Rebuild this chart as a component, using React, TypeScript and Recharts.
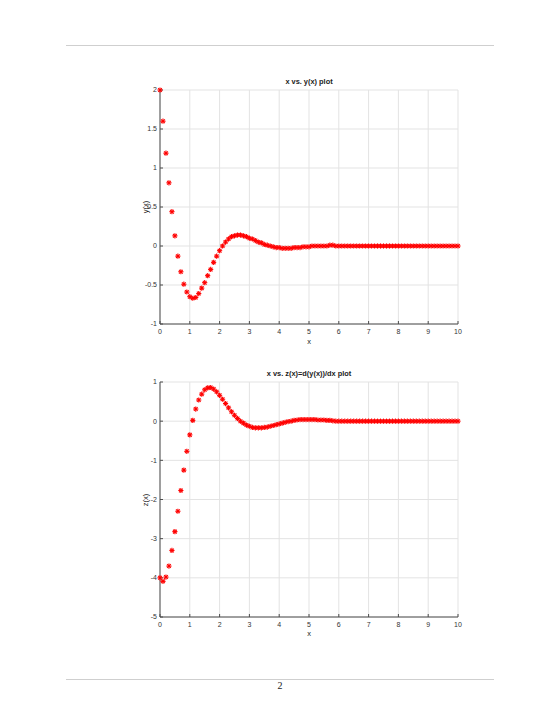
import { ScatterChart, Scatter, XAxis, YAxis, CartesianGrid } from "recharts";

// x grid (step 0.1)
const xValues = [
  0, 0.1, 0.2, 0.3, 0.4, 0.5, 0.6, 0.7, 0.8, 0.9,
  1, 1.1, 1.2, 1.3, 1.4, 1.5, 1.6, 1.7, 1.8, 1.9,
  2, 2.1, 2.2, 2.3, 2.4, 2.5, 2.6, 2.7, 2.8, 2.9,
  3, 3.1, 3.2, 3.3, 3.4, 3.5, 3.6, 3.7, 3.8, 3.9,
  4, 4.1, 4.2, 4.3, 4.4, 4.5, 4.6, 4.7, 4.8, 4.9,
  5, 5.1, 5.2, 5.3, 5.4, 5.5, 5.6, 5.7, 5.8, 5.9,
  6, 6.1, 6.2, 6.3, 6.4, 6.5, 6.6, 6.7, 6.8, 6.9,
  7, 7.1, 7.2, 7.3, 7.4, 7.5, 7.6, 7.7, 7.8, 7.9,
  8, 8.1, 8.2, 8.3, 8.4, 8.5, 8.6, 8.7, 8.8, 8.9,
  9, 9.1, 9.2, 9.3, 9.4, 9.5, 9.6, 9.7, 9.8, 9.9,
  10,
];

// y(x)
const yValues = [
  2.0, 1.6, 1.19, 0.81, 0.44, 0.13, -0.13, -0.33, -0.49, -0.59,
  -0.65, -0.67, -0.66, -0.61, -0.54, -0.47, -0.38, -0.3, -0.21, -0.13,
  -0.06, 0.0, 0.05, 0.09, 0.12, 0.13, 0.14, 0.14, 0.13, 0.12,
  0.1, 0.09, 0.07, 0.05, 0.04, 0.02, 0.01, 0.0, -0.01, -0.02,
  -0.02, -0.03, -0.03, -0.03, -0.03, -0.02, -0.02, -0.02, -0.01, -0.01,
  -0.01, 0.0, 0.0, 0.0, 0.0, 0.0, 0.0, 0.01, 0.01, 0.0,
  0, 0, 0, 0, 0, 0, 0, 0, 0, 0,
  0, 0, 0, 0, 0, 0, 0, 0, 0, 0,
  0, 0, 0, 0, 0, 0, 0, 0, 0, 0,
  0, 0, 0, 0, 0, 0, 0, 0, 0, 0,
  0,
];

// z(x) = d(y(x))/dx
const zValues = [
  -4.0, -4.09, -3.98, -3.7, -3.3, -2.82, -2.3, -1.77, -1.25, -0.77,
  -0.35, 0.02, 0.31, 0.54, 0.69, 0.8, 0.85, 0.86, 0.82, 0.75,
  0.66, 0.56, 0.45, 0.34, 0.24, 0.15, 0.07, 0.0, -0.05, -0.1,
  -0.13, -0.16, -0.17, -0.17, -0.17, -0.16, -0.15, -0.13, -0.11, -0.09,
  -0.07, -0.05, -0.03, -0.01, 0.0, 0.02, 0.03, 0.04, 0.04, 0.04,
  0.04, 0.04, 0.04, 0.03, 0.03, 0.03, 0.02, 0.02, 0.01, 0.0,
  0, 0, 0, 0, 0, 0, 0, 0, 0, 0,
  0, 0, 0, 0, 0, 0, 0, 0, 0, 0,
  0, 0, 0, 0, 0, 0, 0, 0, 0, 0,
  0, 0, 0, 0, 0, 0, 0, 0, 0, 0,
  0,
];

const xTicks = [0, 1, 2, 3, 4, 5, 6, 7, 8, 9, 10];
const yTicks = [-1, -0.5, 0, 0.5, 1, 1.5, 2];
const zTicks = [-5, -4, -3, -2, -1, 0, 1];

const yData = xValues.map((x, i) => ({ x, v: yValues[i] }));
const zData = xValues.map((x, i) => ({ x, v: zValues[i] }));

const FONT = "'Liberation Sans', Arial, Helvetica, sans-serif";
const AXIS = "#4d4d4d";
const tickStyle = { fill: "#333", fontSize: 7, fontFamily: FONT };

const Star = (props: any) => {
  const { cx, cy } = props;
  const r = 2.6;
  const d = r * 0.72;
  return (
    <g stroke="#ff0000" strokeWidth={1.1}>
      <line x1={cx - r} y1={cy} x2={cx + r} y2={cy} />
      <line x1={cx} y1={cy - r} x2={cx} y2={cy + r} />
      <line x1={cx - d} y1={cy - d} x2={cx + d} y2={cy + d} />
      <line x1={cx - d} y1={cy + d} x2={cx + d} y2={cy - d} />
    </g>
  );
};

const Plot = ({
  data,
  yDomain,
  yTickList,
  top,
  marginTop,
  marginBottom,
}: {
  data: { x: number; v: number }[];
  yDomain: [number, number];
  yTickList: number[];
  top: number;
  marginTop: number;
  marginBottom: number;
}) => (
  <div style={{ position: "absolute", left: 0, top }}>
    <ScatterChart
      width={560}
      height={360}
      margin={{ top: marginTop, right: 102, left: 140, bottom: marginBottom }}
    >
      <CartesianGrid stroke="#e3e3e3" strokeWidth={1} />
      <XAxis
        type="number"
        dataKey="x"
        domain={[0, 10]}
        ticks={xTicks}
        interval={0}
        height={20}
        stroke={AXIS}
        tickSize={-3}
        tickMargin={8}
        tick={tickStyle}
      />
      <XAxis
        xAxisId="top"
        orientation="top"
        type="number"
        dataKey="x"
        domain={[0, 10]}
        ticks={xTicks}
        interval={0}
        height={0}
        stroke={AXIS}
        tickSize={-3}
        tick={false}
      />
      <YAxis
        type="number"
        dataKey="v"
        domain={yDomain}
        ticks={yTickList}
        interval={0}
        width={20}
        stroke={AXIS}
        tickSize={-3}
        tickMargin={6}
        tick={tickStyle}
      />
      <YAxis
        yAxisId="right"
        orientation="right"
        type="number"
        dataKey="v"
        domain={yDomain}
        ticks={yTickList}
        interval={0}
        width={0}
        stroke={AXIS}
        tickSize={-3}
        tick={false}
      />
      <Scatter data={data} shape={Star} isAnimationActive={false} />
    </ScatterChart>
  </div>
);

const textBase: React.CSSProperties = {
  position: "absolute",
  fontFamily: FONT,
  color: "#222",
  whiteSpace: "nowrap",
  lineHeight: 1,
};

const App = () => (
  <div
    style={{
      position: "absolute",
      left: 0,
      top: 0,
      width: 560,
      height: 725,
      background: "#fff",
      overflow: "hidden",
    }}
  >
    <div style={{ position: "absolute", left: 66, top: 45, width: 428, height: 1, background: "#cfcfcf" }} />

    <Plot data={yData} yDomain={[-1, 2]} yTickList={yTicks} top={0} marginTop={90} marginBottom={16} />
    <div style={{ ...textBase, left: 309, top: 82, transform: "translate(-50%, -50%)", fontSize: 7.4, fontWeight: "bold" }}>
      x vs. y(x) plot
    </div>
    <div style={{ ...textBase, left: 309, top: 342, transform: "translate(-50%, -50%)", fontSize: 7.5 }}>x</div>
    <div style={{ ...textBase, left: 146, top: 207, transform: "translate(-50%, -50%) rotate(-90deg)", fontSize: 7.5 }}>
      y(x)
    </div>

    <Plot data={zData} yDomain={[-5, 1]} yTickList={zTicks} top={300} marginTop={82} marginBottom={23} />
    <div style={{ ...textBase, left: 309, top: 374, transform: "translate(-50%, -50%)", fontSize: 7.4, fontWeight: "bold" }}>
      x vs. z(x)=d(y(x))/dx plot
    </div>
    <div style={{ ...textBase, left: 309, top: 634, transform: "translate(-50%, -50%)", fontSize: 7.5 }}>x</div>
    <div style={{ ...textBase, left: 146, top: 500, transform: "translate(-50%, -50%) rotate(-90deg)", fontSize: 7.5 }}>
      z(x)
    </div>

    <div style={{ position: "absolute", left: 66, top: 679, width: 428, height: 1, background: "#cfcfcf" }} />
    <div
      style={{
        position: "absolute",
        left: 280,
        top: 686,
        transform: "translate(-50%, -50%)",
        fontFamily: "'Liberation Serif', 'Times New Roman', serif",
        fontSize: 10,
        color: "#222",
        lineHeight: 1,
      }}
    >
      2
    </div>
  </div>
);

export default App;
